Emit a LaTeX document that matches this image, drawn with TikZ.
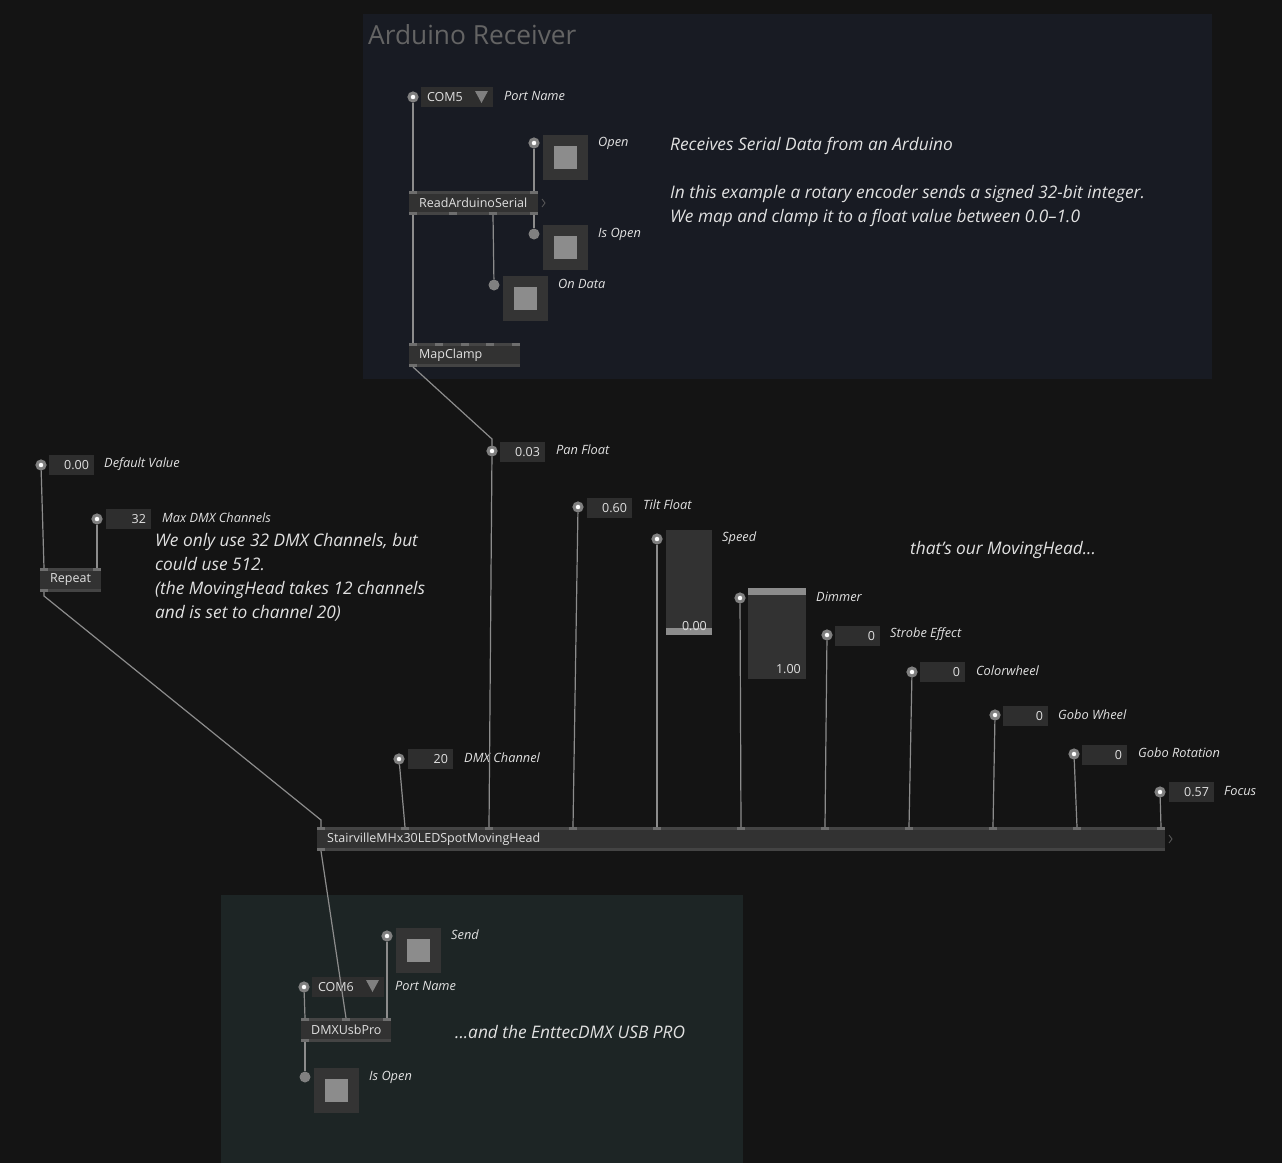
\documentclass[tikz,border=0pt]{standalone}
\usepackage{fontspec}
\setmainfont{Open Sans}
\usepackage{tikz}
\definecolor{bgmain}{RGB}{20,20,20}
\definecolor{grpblue}{RGB}{24,27,35}
\definecolor{grpgreen}{RGB}{29,37,37}
\definecolor{opfill}{RGB}{50,50,50}
\definecolor{opband}{RGB}{68,68,68}
\definecolor{oppin}{RGB}{110,110,110}
\definecolor{valfill}{RGB}{46,46,46}
\definecolor{tglout}{RGB}{52,52,52}
\definecolor{pingrey}{RGB}{128,128,128}
\definecolor{knob}{RGB}{140,140,140}
\definecolor{wire}{RGB}{140,140,140}
\definecolor{txt}{RGB}{225,225,225}
\definecolor{titlegrey}{RGB}{100,100,100}
\tikzset{
  op_font/.style = {font=\fontsize{12.5}{14}\selectfont, text=txt},
  name_font/.style = {font=\fontsize{12.8}{14}\selectfont\itshape, text=txt},
  note_font/.style = {font=\fontsize{17.3}{24}\selectfont\itshape, text=txt},
  title_font/.style = {font=\fontsize{26.3}{30}\selectfont, text=titlegrey}
}
\tikzset{
  op_box/.style = {rectangle, fill=opfill, minimum height=24, anchor=north west, inner sep=0, outer sep=0,
    label={[op_font, anchor=west, xshift=10, inner sep=0]west:#1}},
  io_in/.style = {circle, draw=pingrey, fill=white, line width=3, minimum size=8, inner sep=0},
  io_out/.style = {circle, fill=pingrey, minimum size=11, inner sep=0},
  io_val/.style = {op_font, rectangle, fill=valfill, anchor=west, minimum height=20, text width=35,
    inner xsep=5, inner ysep=0, outer sep=0, align=right},
  io_enum/.style = {io_val, text width=60, inner xsep=6, align=left},
  io_name/.style = {name_font, anchor=west, inner sep=0},
  toggle/.style = {rectangle, fill=knob, draw=tglout, line width=11, minimum size=34, inner sep=0},
  slider/.style = {rectangle, fill=opfill, anchor=north west, inner sep=0, outer sep=0},
  note/.style = {note_font, anchor=base west, align=left, inner sep=0},
  link/.style = {draw=wire, line width=1.2},
  chev/.style = {draw=opfill!80!white, line width=0.8}
}

\begin{document}
\begin{tikzpicture}[x=1pt, y=-1pt]
% Canvas and groups
\fill[bgmain] (0,0) rectangle (1282,1163);
\useasboundingbox (0,0) rectangle (1282,1163);
\fill[grpblue] (363,14) rectangle (1212,379);
\fill[grpgreen] (221,895) rectangle (743,1163);
\node[title_font, anchor=west, inner sep=0] (ard_title) at (368,35) {Arduino Receiver};

% Arduino Receiver
\node[io_in] (com5_pin) at (413,97) {};
\node[io_enum] (com5) at (421,97) {COM5};
\fill[pingrey] ([xshift=-18,yshift=-4]com5.north east) -- ++(13,0) -- ++(-6.5,12) -- cycle;
\node[io_name] (com5_name) at (504,96) {Port Name};
\node[io_in] (open_pin) at (534,143) {};
\node[toggle] (open_tg) at (565.5,157) {};
\node[io_name] (open_name) at (598,143) {Open};
\node[op_box={ReadArduinoSerial}, minimum width=129] (ras) at (409,191) {};
\node[io_out] (isopen_pin) at (534,234) {};
\node[toggle] (isopen_tg) at (565.5,247.5) {};
\node[io_name] (isopen_name) at (598,234) {Is Open};
\node[io_out] (ondata_pin) at (494,285) {};
\node[toggle] (ondata_tg) at (525.5,298.5) {};
\node[io_name] (ondata_name) at (558,284) {On Data};
\node[op_box={MapClamp}, minimum width=111] (mapc) at (409,343) {};
\node[note] (ard_note) at (670,222) {Receives Serial Data from an Arduino\\[24pt]
  In this example a rotary encoder sends a signed 32-bit integer.\\
  We map and clamp it to a float value between 0.0--1.0};

% Channel count
\node[io_in] (def_pin) at (41,465) {};
\node[io_val] (def_val) at (49,465) {0.00};
\node[io_name] (def_name) at (104,464) {Default Value};
\node[io_in] (max_pin) at (97,519) {};
\node[io_val] (max_val) at (106,519) {32};
\node[io_name] (max_name) at (162,518) {Max DMX Channels};
\node[op_box={Repeat}, minimum width=61] (rep) at (40,568) {};
\node[note] (rep_note) at (155,618) {We only use 32 DMX Channels, but\\could use 512.\\
  (the MovingHead takes 12 channels\\and is set to channel 20)};

% MovingHead inputs
\node[io_in] (dmxch_pin) at (399,759) {};
\node[io_val] (dmxch_val) at (408,759) {20};
\node[io_name] (dmxch_name) at (464,758) {DMX Channel};
\node[io_in] (pan_pin) at (492,451) {};
\node[io_val] (pan_val) at (500,452) {0.03};
\node[io_name] (pan_name) at (556,450) {Pan Float};
\node[io_in] (tilt_pin) at (578,507) {};
\node[io_val] (tilt_val) at (587,508) {0.60};
\node[io_name] (tilt_name) at (643,505) {Tilt Float};
\node[io_in] (speed_pin) at (657,539) {};
\node[slider, minimum width=46, minimum height=105] (speed_sl) at (666,530) {};
\fill[knob] ([yshift=7]speed_sl.south west) rectangle (speed_sl.south east);
\node[op_font, anchor=east, inner sep=0] (speed_val) at ([xshift=-5,yshift=9]speed_sl.south east) {0.00};
\node[io_name] (speed_name) at (722,538) {Speed};
\node[io_in] (dim_pin) at (740,598) {};
\node[slider, minimum width=58, minimum height=91] (dim_sl) at (748,588) {};
\fill[knob] (dim_sl.north west) rectangle ([yshift=-7]dim_sl.north east);
\node[op_font, anchor=east, inner sep=0] (dim_val) at ([xshift=-5,yshift=10]dim_sl.south east) {1.00};
\node[io_name] (dim_name) at (816,597) {Dimmer};
\node[io_in] (strobe_pin) at (827,635) {};
\node[io_val] (strobe_val) at (835,636) {0};
\node[io_name] (strobe_name) at (890,634) {Strobe Effect};
\node[io_in] (color_pin) at (912,672) {};
\node[io_val] (color_val) at (920,672) {0};
\node[io_name] (color_name) at (976,671) {Colorwheel};
\node[io_in] (gobo_pin) at (995,715) {};
\node[io_val] (gobo_val) at (1003,716) {0};
\node[io_name] (gobo_name) at (1058,715) {Gobo Wheel};
\node[io_in] (gobor_pin) at (1074,754) {};
\node[io_val] (gobor_val) at (1082,755) {0};
\node[io_name] (gobor_name) at (1138,753) {Gobo Rotation};
\node[io_in] (focus_pin) at (1160,792) {};
\node[io_val] (focus_val) at (1169,792) {0.57};
\node[io_name] (focus_name) at (1224,791) {Focus};
\node[op_box={StairvilleMHx30LEDSpotMovingHead}, minimum width=848] (mh) at (317,827) {};
\node[note] (mh_note) at (910,554) {that's our MovingHead...};

% DMX output
\node[io_in] (send_pin) at (387,936) {};
\node[toggle] (send_tg) at (418,950) {};
\node[io_name] (send_name) at (451,935) {Send};
\node[io_in] (com6_pin) at (304,987) {};
\node[io_enum] (com6) at (312,987) {COM6};
\fill[pingrey] ([xshift=-18,yshift=-3]com6.north east) -- ++(13,0) -- ++(-6.5,12) -- cycle;
\node[io_name] (com6_name) at (395,986) {Port Name};
\node[op_box={DMXUsbPro}, minimum width=90] (dmx) at (301,1018) {};
\node[io_out] (isopen2_pin) at (305,1077) {};
\node[toggle] (isopen2_tg) at (336.5,1090.5) {};
\node[io_name] (isopen2_name) at (369,1077) {Is Open};
\node[note] (dmx_note) at (455,1038) {...and the EnttecDMX USB PRO};

% Pins of the boxes
\foreach \b/\ins/\outs in {ras/{0,121}/{0,40,80,121}, mapc/{0,26,52,77,103}/{0},
    rep/{0,53}/{0}, mh/{0,84,168,252,336,420,504,588,672,756,840}/{0}, dmx/{0,41,82}/{0}}{
  \fill[opband] (\b.north west) rectangle ([yshift=-3]\b.north east);
  \fill[opband] ([yshift=3]\b.south west) rectangle (\b.south east);
  \foreach \x [count=\i from 0] in \ins {
    \fill[oppin] ([xshift=\x]\b.north west) rectangle ++(8,3);
    \coordinate (\b_in\i) at ([xshift=\x+4]\b.north west);
  }
  \foreach \x [count=\i from 0] in \outs {
    \fill[oppin] ([xshift=\x]\b.south west) rectangle ++(8,-3);
    \coordinate (\b_out\i) at ([xshift=\x+4]\b.south west);
  }
}
\draw[chev] ([xshift=4,yshift=4]ras.east) -- ++(3,4) -- ++(-3,4);
\draw[chev] ([xshift=4,yshift=4]mh.east) -- ++(3,4) -- ++(-3,4);

% Links
\draw[link] (com5_pin) -- (ras_in0);
\draw[link] (open_pin) -- (ras_in1);
\draw[link] (ras_out3) -- (isopen_pin);
\draw[link] (ras_out2) -- (ondata_pin);
\draw[link] (ras_out0) -- (mapc_in0);
\draw[link] (mapc_out0) -- ([yshift=12]pan_pin.center) -- (pan_pin);
\draw[link] (def_pin) -- (rep_in0);
\draw[link] (max_pin) -- (rep_in1);
\draw[link] (rep_out0) -- ([yshift=-4]rep_out0) -- ([yshift=7]mh_in0) -- (mh_in0);
\foreach \p [count=\i] in {dmxch,pan,tilt,speed,dim,strobe,color,gobo,gobor,focus}
  \draw[link] (\p_pin) -- (mh_in\i);
\draw[link] (mh_out0) -- (dmx_in1);
\draw[link] (com6_pin) -- (dmx_in0);
\draw[link] (send_pin) -- (dmx_in2);
\draw[link] (dmx_out0) -- (isopen2_pin);
\end{tikzpicture}
\end{document}
